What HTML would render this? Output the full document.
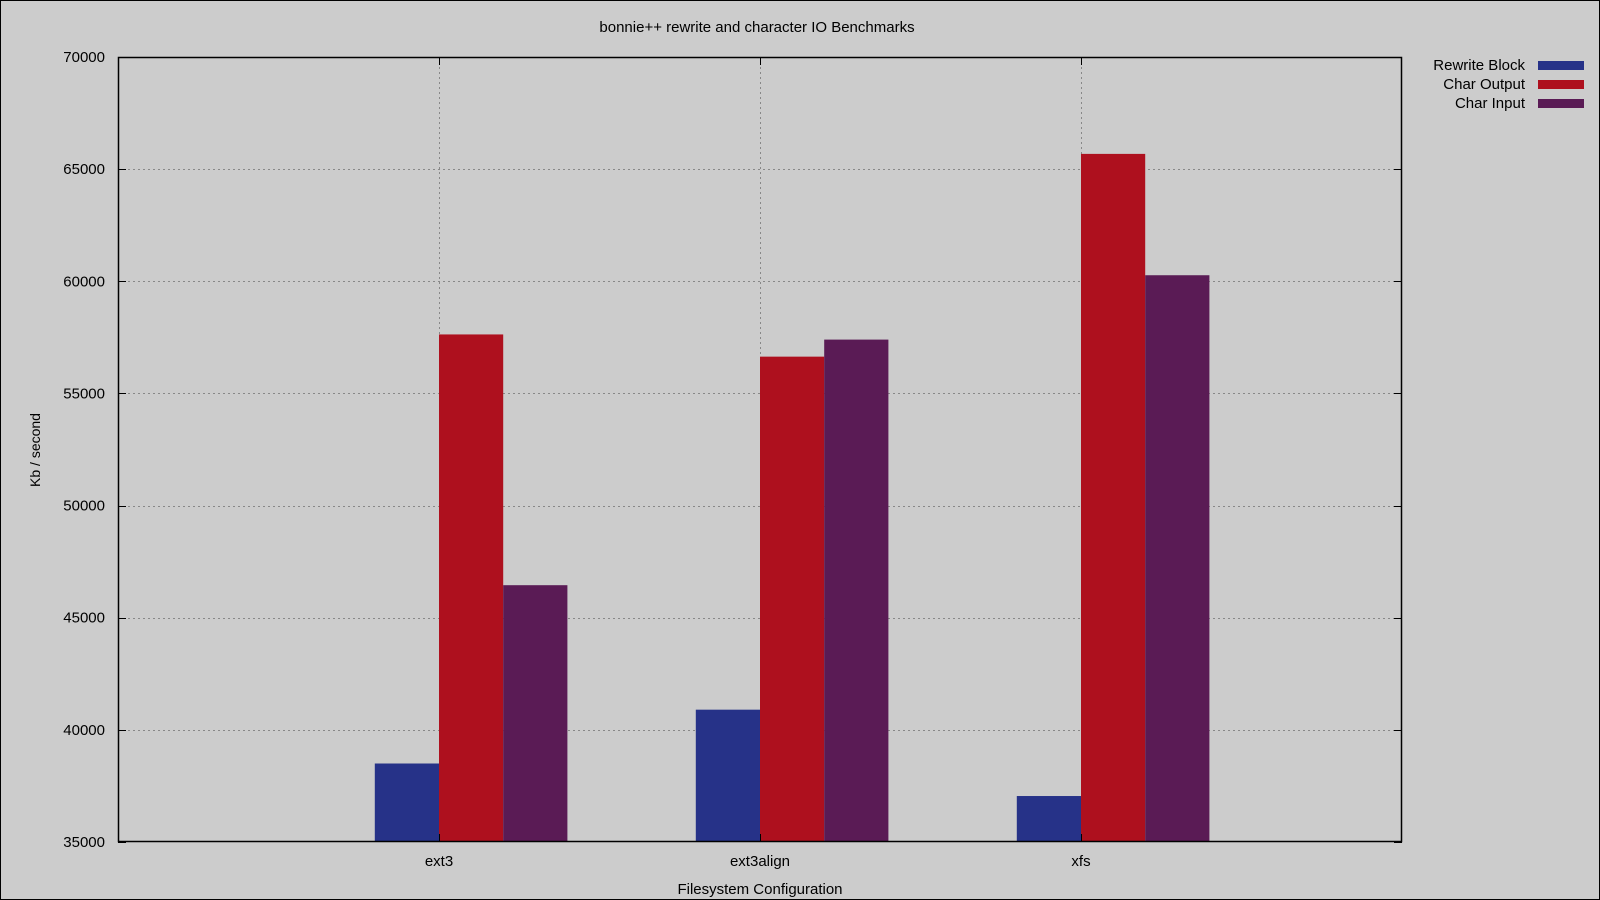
<!DOCTYPE html>
<html><head><meta charset="utf-8"><style>
html,body{margin:0;padding:0;background:#cccccc;}
svg{display:block;font-family:"Liberation Sans",sans-serif;}
</style></head><body>
<svg id="chart" width="1600" height="900" viewBox="0 0 1600 900">
<rect x="0.5" y="0.5" width="1599" height="899" fill="#cccccc" stroke="#000"/>
<text x="757" y="32" font-size="15" text-anchor="middle">bonnie++ rewrite and character IO Benchmarks</text>
<text x="760" y="894" font-size="15" text-anchor="middle">Filesystem Configuration</text>
<text transform="translate(40,450) rotate(-90)" font-size="14" text-anchor="middle">Kb / second</text>
<g id="grid"></g><g id="bars"></g><g id="axes"></g><g id="legend"></g>
</svg>
<script>
const categories = ["ext3","ext3align","xfs"];
const seriesNames = ["Rewrite Block","Char Output","Char Input"];
const rewriteBlock = [38500, 40900, 37050];
const charOutput = [57630, 56640, 65680];
const charInput = [46450, 57400, 60270];
const yTicks = [35000,40000,45000,50000,55000,60000,65000,70000];
const colors = ["#263288","#ae101e","#5a1b55"];
const series = [rewriteBlock, charOutput, charInput];

const L=118,R=1402,T=57,B=842, yMin=35000,yMax=70000, xMin=-1,xMax=3;
const xs=v=>L+(v-xMin)/(xMax-xMin)*(R-L);
const ys=v=>B-(v-yMin)/(yMax-yMin)*(B-T);
const NS="http://www.w3.org/2000/svg";
function mk(tag,attrs,parent,text){const e=document.createElementNS(NS,tag);for(const k in attrs)e.setAttribute(k,attrs[k]);if(text!==undefined)e.textContent=text;parent.appendChild(e);return e;}
const grid=document.getElementById('grid'),bars=document.getElementById('bars'),axes=document.getElementById('axes'),legend=document.getElementById('legend');

yTicks.forEach(t=>{
  const y=Math.round(ys(t))+0.5;
  if(t>yMin&&t<yMax){const g=mk('line',{x1:L,x2:R,y1:y,y2:y,stroke:'#888','stroke-dasharray':'2,3'},grid);
  
  }
  const tl=mk('line',{x1:L,x2:L+8,y1:y,y2:y,stroke:'#000'},axes);
  
  
  const tr=mk('line',{x1:R-8,x2:R,y1:y,y2:y,stroke:'#000'},axes);
  
  
  const lb=mk('text',{x:105,y:ys(t)+5,'font-size':15,'text-anchor':'end'},axes,String(t));
  
  
});
categories.forEach((c,i)=>{
  const x=Math.round(xs(i))+0.5;
  const g=mk('line',{x1:x,x2:x,y1:T,y2:B,stroke:'#888','stroke-dasharray':'2,3'},grid);
  
  
  const t1=mk('line',{x1:x,x2:x,y1:B-8,y2:B,stroke:'#000'},axes);
  
  
  const t2=mk('line',{x1:x,x2:x,y1:T,y2:T+8,stroke:'#000'},axes);
  
  
  const lb=mk('text',{x:xs(i),y:866,'font-size':15,'text-anchor':'middle'},axes,c);
  
  
  series.forEach((s,j)=>{
    const x0=xs(i+(j-1)*0.2), x1=xs(i+j*0.2);
    const r=mk('rect',{x:x0,y:ys(s[i]),width:x1-x0,height:B-ys(s[i]),fill:colors[j]},bars);
    
    
  });
});
const frame=mk('rect',{x:L+0.5,y:T+0.5,width:R-L-1,height:B-T-1,fill:'none',stroke:'#000','stroke-width':1.5},axes);


seriesNames.forEach((n,j)=>{
  const y=65+j*19;
  const t=mk('text',{x:1525,y:y+5,'font-size':15,'text-anchor':'end'},legend,n);
  
  
  const r=mk('rect',{x:1538,y:y-4,width:46,height:9,fill:colors[j]},legend);
  
  
});
</script>
</body></html>
